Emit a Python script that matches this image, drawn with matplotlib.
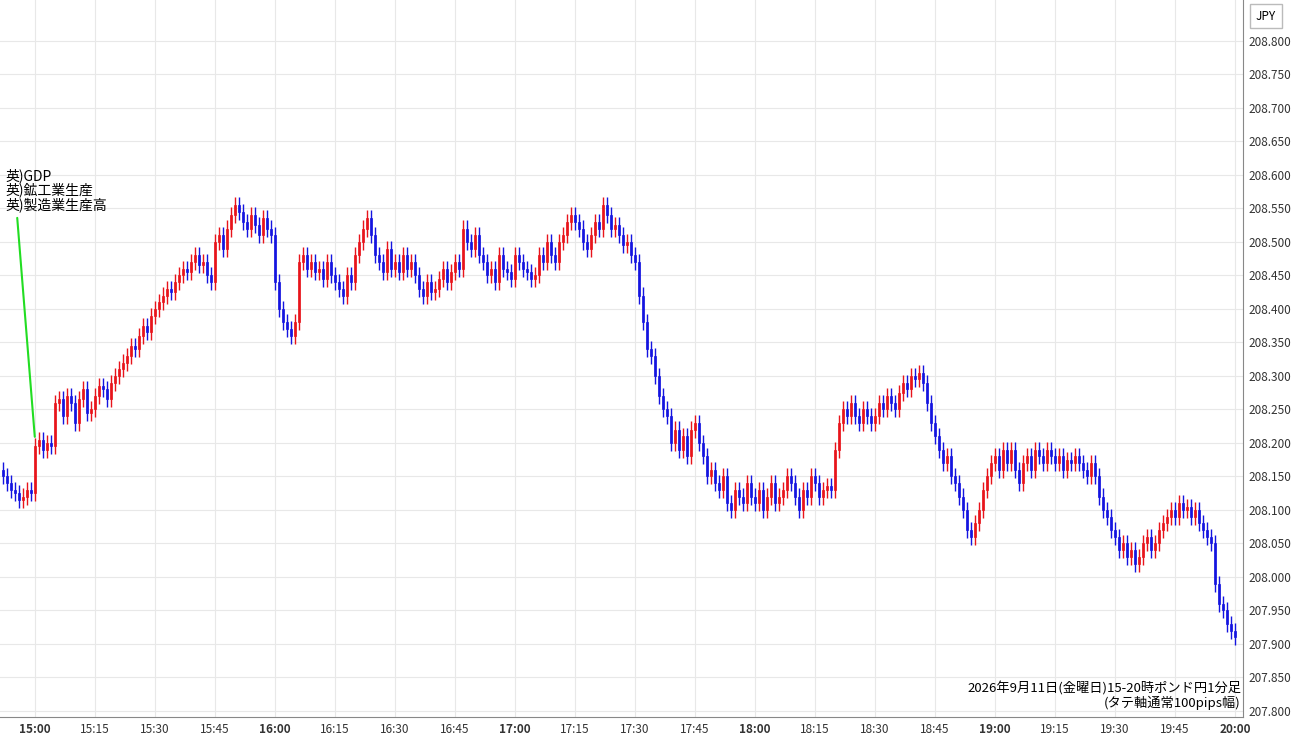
import matplotlib
matplotlib.use("Agg")
import matplotlib.pyplot as plt
import numpy as np

plt.rcParams['font.family'] = ['Noto Sans CJK JP', 'DejaVu Sans']

start_minute = -8  # 14:52
closes = [
 208.150,208.140,208.130,208.125,208.115,208.120,208.130,208.125,
 208.195,208.205,208.190,208.200,208.195,
 208.260,208.265,208.240,208.270,208.260,
 208.230,208.265,208.280,208.245,208.250,
 208.270,208.285,208.280,208.265,208.290,
 208.300,208.310,208.320,208.330,208.345,
 208.340,208.360,208.375,208.365,208.390,
 208.400,208.410,208.420,208.430,208.425,
 208.440,208.450,208.460,208.455,208.470,
 208.480,208.465,208.470,208.450,208.440,
 208.500,208.510,208.490,208.520,208.540,
 208.555,208.545,208.530,208.520,208.540,
 208.525,208.510,208.535,208.520,208.510,
 208.440,208.400,208.380,208.370,208.360,
 208.380,208.470,208.480,208.460,208.470,
 208.455,208.460,208.445,208.470,208.450,
 208.440,208.430,208.420,208.450,208.440,
 208.480,208.500,208.520,208.535,208.510,
 208.480,208.470,208.455,208.490,208.460,
 208.470,208.455,208.480,208.460,208.470,
 208.450,208.430,208.420,208.440,208.425,
 208.430,208.445,208.460,208.440,208.455,
 208.470,208.460,208.520,208.500,208.490,
 208.510,208.480,208.470,208.450,208.460,
 208.440,208.480,208.460,208.455,208.445,
 208.480,208.470,208.460,208.455,208.445,
 208.450,208.480,208.470,208.500,208.480,
 208.470,208.500,208.510,208.530,208.540,
 208.530,208.520,208.500,208.490,208.510,
 208.530,208.520,208.555,208.540,208.520,
 208.525,208.510,208.495,208.500,208.480,
 208.470,208.420,208.380,208.340,208.330,
 208.300,208.270,208.250,208.240,208.200,
 208.220,208.190,208.210,208.180,208.220,
 208.230,208.200,208.180,208.150,208.160,
 208.140,208.130,208.150,208.110,208.100,
 208.130,208.120,208.110,208.140,208.120,
 208.110,208.130,208.100,208.120,208.140,
 208.110,208.120,208.130,208.150,208.140,
 208.120,208.100,208.130,208.120,208.150,
 208.140,208.120,208.130,208.135,208.130,
 208.190,208.230,208.250,208.240,208.260,
 208.240,208.230,208.250,208.240,208.230,
 208.240,208.260,208.250,208.270,208.260,
 208.250,208.275,208.290,208.280,208.300,
 208.295,208.305,208.290,208.260,208.230,
 208.210,208.190,208.170,208.180,208.150,
 208.140,208.120,208.100,208.070,208.060,
 208.080,208.100,208.130,208.150,208.170,
 208.180,208.160,208.190,208.170,208.190,
 208.160,208.140,208.170,208.180,208.160,
 208.190,208.180,208.170,208.190,208.180,
 208.170,208.180,208.160,208.175,208.170,
 208.180,208.170,208.160,208.150,208.170,
 208.150,208.120,208.100,208.090,208.070,
 208.060,208.040,208.050,208.030,208.040,
 208.020,208.030,208.050,208.060,208.040,
 208.050,208.070,208.080,208.090,208.100,
 208.090,208.110,208.100,208.105,208.090,
 208.100,208.080,208.070,208.060,208.050,
 207.990,207.960,207.950,207.930,207.920,
 207.910,
]
first_open = 208.160
wick = 0.012
tick_times = ["15:00","15:15","15:30","15:45","16:00","16:15","16:30","16:45","17:00","17:15","17:30","17:45",
              "18:00","18:15","18:30","18:45","19:00","19:15","19:30","19:45","20:00"]
event_labels = ["英)GDP", "英)鉱工業生産", "英)製造業生産高"]

fig = plt.figure(figsize=(13, 7.45), dpi=100)
ax = fig.add_axes([0, 28/745, 1243/1300, 717/745])

opens = [first_open] + closes[:-1]
for i, (o, c) in enumerate(zip(opens, closes)):
    x = start_minute + i
    col = '#e8141b' if c >= o else '#1414e0'
    hi = max(o, c) + wick
    lo = min(o, c) - wick
    ax.vlines(x, lo, hi, color=col, lw=1)
    ax.bar(x, max(abs(c - o), 0.002), bottom=min(o, c), width=0.7, color=col, edgecolor=col, lw=0.5)

ax.set_xlim(-8.75, 302)
ax.set_ylim(207.791, 208.861)
ax.yaxis.tick_right()
yt = np.arange(207.80, 208.801, 0.05)
ax.set_yticks(yt)
ax.set_yticklabels([f"{v:.3f}" for v in yt], fontsize=8.5, color='#333')
ax.set_xticks(range(0, 301, 15))
ax.set_xticklabels(tick_times, fontsize=8.5, color='#333')
for lab, t in zip(ax.get_xticklabels(), tick_times):
    if t.endswith(":00"):
        lab.set_fontweight('bold')
ax.tick_params(length=0, pad=4)
ax.grid(True, color='#e8e8e8', lw=0.8)
ax.set_axisbelow(True)
for s in ['top', 'left']:
    ax.spines[s].set_visible(False)
ax.spines['right'].set_color('#888')
ax.spines['bottom'].set_color('#888')

ax.annotate("", xy=(0, 208.205), xytext=(-4.5, 208.540),
            arrowprops=dict(arrowstyle='-', color='#22dd22', lw=1.5))
ax.text(-7.5, 208.545, "\n".join(event_labels), fontsize=10, va='bottom', ha='left', linespacing=0.95)
ax.text(301.5, 207.802, "2026年9月11日(金曜日)15-20時ポンド円1分足\n(タテ軸通常100pips幅)",
        fontsize=9.5, ha='right', va='bottom', linespacing=1.0)

fig.text(1266/1300, 1-16/745, "JPY", fontsize=8.5, ha='center', va='center',
         bbox=dict(boxstyle='square,pad=0.5', fc='white', ec='#bbb'))
fig.savefig("out.png", dpi=100)
